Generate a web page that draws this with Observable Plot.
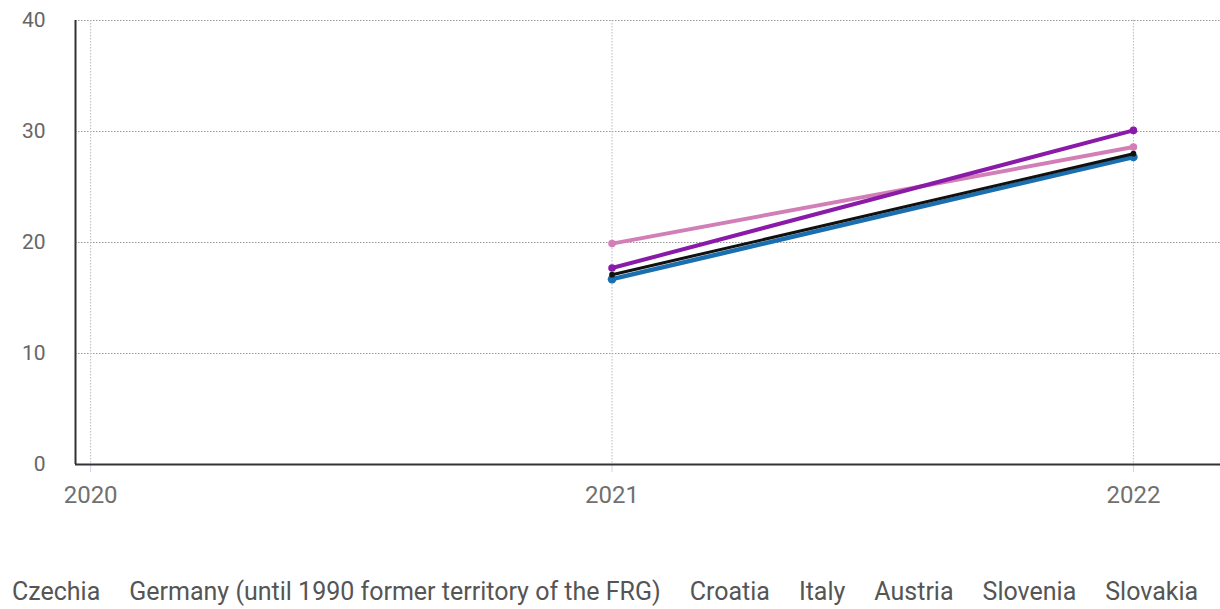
<!DOCTYPE html>
<html><head><meta charset="utf-8">
<script src="https://cdn.jsdelivr.net/npm/d3@7"></script>
<script src="https://cdn.jsdelivr.net/npm/@observablehq/plot@0.6"></script>
<style>
body{margin:0;background:#fff;font-family:Roboto,sans-serif;}
#legend{display:flex;gap:29px;padding-left:12px;margin-top:57px;font-size:25px;color:#555;white-space:nowrap;}
</style></head><body>
<div id="chart"></div>
<div id="legend"></div>
<script>
const years = [2020, 2021, 2022];
const countries = ["Czechia","Germany (until 1990 former territory of the FRG)","Croatia","Italy","Austria","Slovenia","Slovakia"];
const colors = ["#1a6fb0","#111111","#d17fb6","#8a1aa8","#1a6fb0","#111111","#d17fb6"];
const widths = [4.5, 3, 4, 4, 3, 3, 3];
const czechia  = [null, 16.7, 27.7];
const germany  = [null, 17.1, 28.0];
const croatia  = [null, 19.9, 28.6];
const italy    = [null, 17.7, 30.1];
const austria  = [null, null, null];
const slovenia = [null, null, null];
const slovakia = [null, null, null];
const series = [czechia, germany, croatia, italy, austria, slovenia, slovakia];
const yTicks = [0, 10, 20, 30, 40];

const rows = [];
series.forEach((vals, i) => vals.forEach((v, j) => { if (v != null) rows.push({country: countries[i], year: years[j], value: v}); }));
const drawOrder = [2, 0, 1, 3];

const xDomain = [2019.971, 2022.167];
const lineMarks = [];
drawOrder.forEach(i => {
  const d = rows.filter(r => r.country === countries[i]);
  lineMarks.push(Plot.line(d, {x: "year", y: "value", stroke: colors[i], strokeWidth: widths[i]}));
  lineMarks.push(Plot.dot(d, {x: "year", y: "value", fill: colors[i], r: widths[i] * 0.95}));
});
const chart = Plot.plot({
  width: 1220, height: 520,
  marginLeft: 75, marginRight: 0, marginTop: 20, marginBottom: 56,
  style: {fontFamily: "Roboto, sans-serif", color: "#666"},
  x: {domain: xDomain, ticks: years, label: null},
  y: {domain: [0, 40], ticks: yTicks, label: null},
  marks: [
    Plot.gridY(yTicks, {stroke: "#999", strokeOpacity: 1, strokeDasharray: "1.5,1.5", strokeWidth: 1}),
    Plot.gridX(years, {stroke: "#bbb", strokeOpacity: 1, strokeDasharray: "1.5,1.5", strokeWidth: 1}),
    Plot.axisY(yTicks, {tickSize: 0, tickPadding: 30, fill: "#666", fontSize: 21, label: null}),
    Plot.axisX(years, {tickSize: 8, stroke: "#c9d5ee", tickFormat: d => String(d), tickPadding: 13, fill: "#707070", fontSize: 24, label: null}),
    Plot.ruleX([xDomain[0]], {stroke: "#333", strokeWidth: 2}),
    Plot.ruleY([0], {stroke: "#333", strokeWidth: 2}),
    ...lineMarks
  ]
});
document.getElementById("chart").append(chart);
const lg = document.getElementById("legend");
countries.forEach(c => { const s = document.createElement("span"); s.textContent = c; lg.append(s); });
</script>
</body></html>
